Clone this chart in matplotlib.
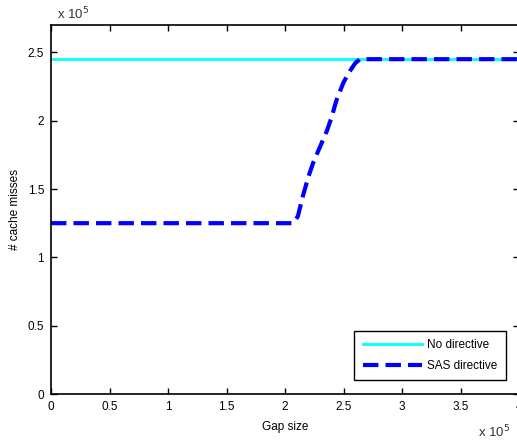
import matplotlib.pyplot as plt

plt.rcParams['font.family'] = ['Liberation Sans', 'DejaVu Sans']

# gap size (x 10^5) and cache misses (x 10^5)
gap_nodir = [0.0, 4.0]
miss_nodir = [2.45, 2.45]

gap_sas = [0.0, 2.07, 2.11, 2.15, 2.20, 2.24, 2.30, 2.36, 2.40, 2.44, 2.50, 2.56, 2.60, 2.64, 4.0]
miss_sas = [1.25, 1.25, 1.30, 1.44, 1.59, 1.69, 1.81, 1.93, 2.03, 2.15, 2.28, 2.37, 2.42, 2.45, 2.45]

xticks = [0, 0.5, 1, 1.5, 2, 2.5, 3, 3.5, 4]
xticklabels = ['0', '0.5', '1', '1.5', '2', '2.5', '3', '3.5', '4']
yticks = [0, 0.5, 1, 1.5, 2, 2.5]
yticklabels = ['0', '0.5', '1', '1.5', '2', '2.5']

fig = plt.figure(figsize=(5.17, 4.44), dpi=100)
ax = fig.add_axes([51/517, 50/444, 468/517, 369/444])

ax.plot(gap_nodir, miss_nodir, color='#00ffff', lw=2, label='No directive')
ax.plot(gap_sas, miss_sas, color='#0000ff', lw=3, ls=(0, (3.7, 1.7)), label='SAS directive')

ax.set_xlim(0, 4)
ax.set_ylim(0, 2.7)
ax.set_xticks(xticks)
ax.set_xticklabels(xticklabels)
ax.set_yticks(yticks)
ax.set_yticklabels(yticklabels)
ax.tick_params(direction='in', top=True, right=True, labelsize=8.5, length=4, width=1, pad=5)
for s in ax.spines.values():
    s.set_linewidth(1.2)

ax.set_xlabel('Gap size', fontsize=8.5, labelpad=6)
ax.set_ylabel('# cache misses', fontsize=8.5, labelpad=5)

fig.text(57/517, 1 - 14/444, r'x 10$^5$', fontsize=9.5, va='center', color='#333')
fig.text(478/517, 1 - 432/444, r'x 10$^5$', fontsize=9.5, va='center', color='#333')

leg = ax.legend(loc='lower right', bbox_to_anchor=(455/468, 14/369), fontsize=8.5,
                fancybox=False, edgecolor='black', framealpha=1, handlelength=5.0,
                borderpad=0.7, labelspacing=0.75, handletextpad=0.5, borderaxespad=0)
leg.get_frame().set_linewidth(1)

fig.savefig('out.png', dpi=100)
